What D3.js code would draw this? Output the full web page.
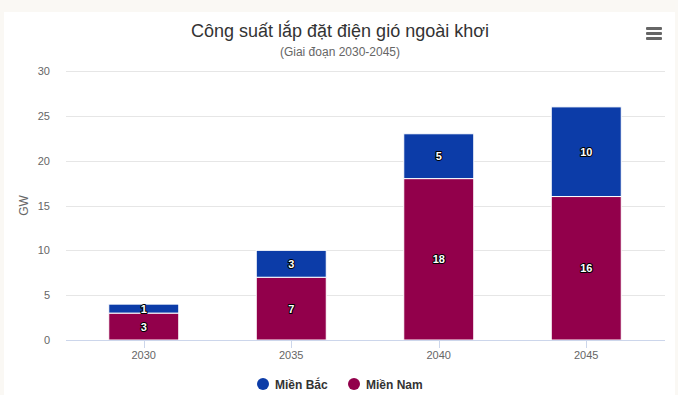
<!DOCTYPE html>
<html>
<head>
<meta charset="utf-8">
<script src="https://cdn.jsdelivr.net/npm/d3@7/dist/d3.min.js"></script>
<style>
  body { margin: 0; background: #faf8f4; }
  #chart { position: absolute; left: 4px; top: 12px; width: 671px; height: 383px; background: #fff; }
  svg { font-family: "Liberation Sans", Arial, sans-serif; }
</style>
</head>
<body>
<div id="chart"></div>
<script>
const years = ['2030', '2035', '2040', '2045'];
const mienNam = [3, 7, 18, 16];
const mienBac = [1, 3, 5, 10];
const yTicks = [0, 5, 10, 15, 20, 25, 30];
const seriesNames = ['Miền Bắc', 'Miền Nam'];
const colors = { bac: '#0c3ca8', nam: '#92004b' };

const width = 678, height = 395;

const svg = d3.select('body').append('svg')
  .attr('width', width).attr('height', height)
  .style('position', 'absolute').style('left', 0).style('top', 0);

const x = d3.scaleBand().domain(years).range([70, 660]);
const y = d3.scaleLinear().domain([0, 30]).range([340, 71]);
const barW = 70;

// gridlines
svg.append('g').selectAll('line').data(yTicks.filter(d => d > 0)).join('line')
  .attr('x1', 66).attr('x2', 665)
  .attr('y1', d => Math.round(y(d)) + 0.5).attr('y2', d => Math.round(y(d)) + 0.5)
  .attr('stroke', '#e6e6e6');

// y labels
svg.append('g').selectAll('text').data(yTicks).join('text')
  .attr('x', 50).attr('y', d => y(d) + 4)
  .attr('text-anchor', 'end').attr('font-size', 11).attr('fill', '#666')
  .text(d => d);

svg.append('text')
  .attr('transform', `translate(28,${y(15)}) rotate(-90)`)
  .attr('text-anchor', 'middle').attr('font-size', 12).attr('fill', '#666')
  .text('GW');

// stacked data
const rows = years.map((yr, i) => ({ year: yr, nam: mienNam[i], bac: mienBac[i] }));
const stack = d3.stack().keys(['nam', 'bac'])(rows);

const g = svg.append('g');
stack.forEach(layer => {
  g.append('g').selectAll('rect').data(layer).join('rect')
    .attr('x', d => x(d.data.year) + x.bandwidth() / 2 - barW / 2)
    .attr('width', barW)
    .attr('y', d => y(d[1]))
    .attr('height', d => y(d[0]) - y(d[1]))
    .attr('fill', colors[layer.key])
    .attr('stroke', '#fff').attr('stroke-width', 1);
});

// data labels
stack.forEach(layer => {
  g.append('g').selectAll('text').data(layer).join('text')
    .attr('x', d => x(d.data.year) + x.bandwidth() / 2)
    .attr('y', d => (y(d[0]) + y(d[1])) / 2 + 4)
    .attr('text-anchor', 'middle')
    .attr('font-size', 11).attr('font-weight', 'bold')
    .attr('fill', '#fff')
    .attr('stroke', '#000').attr('stroke-width', 2).attr('stroke-linejoin', 'round')
    .attr('paint-order', 'stroke')
    .text(d => d[1] - d[0]);
});

// x axis
svg.append('line').attr('x1', 66).attr('x2', 665).attr('y1', 340.5).attr('y2', 340.5)
  .attr('stroke', '#ccd6eb');
svg.append('g').selectAll('line').data(years).join('line')
  .attr('x1', d => Math.round(x(d) + x.bandwidth() / 2) + 0.5)
  .attr('x2', d => Math.round(x(d) + x.bandwidth() / 2) + 0.5)
  .attr('y1', 340).attr('y2', 348)
  .attr('stroke', '#ccd6eb');
svg.append('g').selectAll('text').data(years).join('text')
  .attr('x', d => x(d) + x.bandwidth() / 2).attr('y', 359)
  .attr('text-anchor', 'middle').attr('font-size', 11).attr('fill', '#666')
  .text(d => d);

// title
svg.append('text').attr('x', 340).attr('y', 37)
  .attr('text-anchor', 'middle').attr('font-size', 18).attr('fill', '#333')
  .text('Công suất lắp đặt điện gió ngoài khơi');
svg.append('text').attr('x', 340).attr('y', 56)
  .attr('text-anchor', 'middle').attr('font-size', 12).attr('fill', '#666')
  .text('(Giai đoạn 2030-2045)');

// menu icon
svg.append('g').selectAll('rect').data([0, 1, 2]).join('rect')
  .attr('x', 646).attr('y', d => 27 + d * 5).attr('width', 16).attr('height', 3)
  .attr('rx', 1).attr('fill', '#666');

// legend
const legendX = [263, 354];
const leg = svg.append('g').selectAll('g').data(seriesNames).join('g')
  .attr('transform', (d, i) => `translate(${legendX[i]},384)`);
leg.append('circle').attr('r', 6).attr('fill', (d, i) => i === 0 ? colors.bac : colors.nam);
leg.append('text').attr('x', 12).attr('y', 4.5)
  .attr('font-size', 12).attr('font-weight', 'bold').attr('fill', '#333')
  .text(d => d);
</script>
</body>
</html>
